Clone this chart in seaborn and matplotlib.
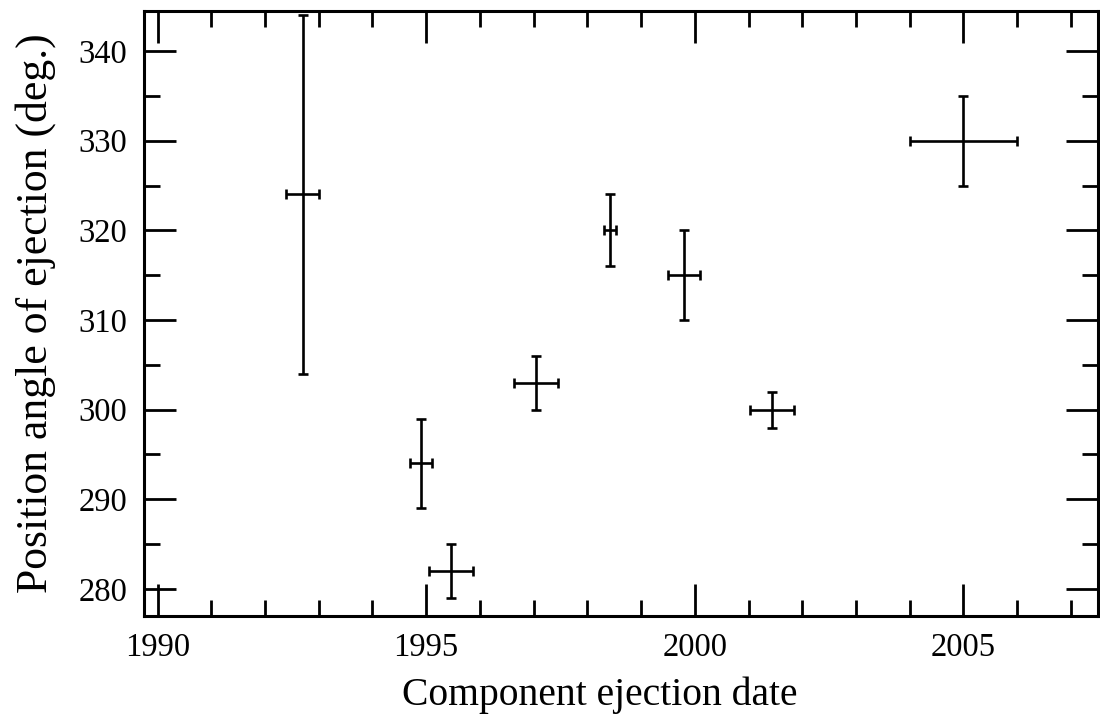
import matplotlib
matplotlib.use("Agg")
import matplotlib.pyplot as plt
import seaborn as sns
import numpy as np
from matplotlib.ticker import MultipleLocator

# Data
ejection_date = [1992.7, 1994.9, 1995.47, 1997.05, 1998.42, 1999.8, 2001.43, 2005.0]
date_err = [0.3, 0.21, 0.41, 0.41, 0.11, 0.3, 0.41, 1.0]
position_angle = [324, 294, 282, 303, 320, 315, 300, 330]
angle_err = [20, 5, 3, 3, 4, 5, 2, 5]

sns.set_theme(style="ticks")
plt.rcParams['font.family'] = ['Liberation Serif', 'DejaVu Serif']

fig = plt.figure(figsize=(11, 7.16), dpi=100)
ax = fig.add_axes([0.131, 0.140, 0.867, 0.845])

ax.errorbar(ejection_date, position_angle, xerr=date_err, yerr=angle_err,
            fmt='none', ecolor='black', elinewidth=1.9, capsize=3.6, capthick=1.9)

ax.set_xlim(1989.75, 2007.5)
ax.set_ylim(277.0, 344.5)
ax.xaxis.set_major_locator(MultipleLocator(5))
ax.xaxis.set_minor_locator(MultipleLocator(1))
ax.yaxis.set_major_locator(MultipleLocator(10))
ax.yaxis.set_minor_locator(MultipleLocator(5))

for s in ax.spines.values():
    s.set_visible(True)
    s.set_linewidth(2.2)
    s.set_color('black')

ax.tick_params(which='both', direction='in', top=True, right=True, color='black')
ax.tick_params(which='major', length=23, width=2.0, labelsize=23.5, pad=12, labelcolor='black')
ax.tick_params(which='minor', length=11.5, width=2.0)

ax.set_xlabel("Component ejection date", fontsize=28.5, color='black', labelpad=10)
ax.xaxis.label.set_x(0.478)
ax.set_ylabel("Position angle of ejection (deg.)", fontsize=31.5, color='black', labelpad=16)

fig.savefig("out.png", dpi=100)
